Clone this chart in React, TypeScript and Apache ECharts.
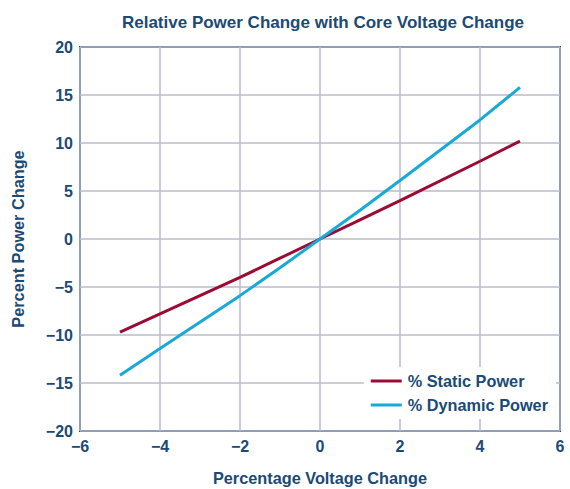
import React, { useEffect, useRef } from "react";
import * as echarts from "echarts";

const xValues = [-5, -4, -2, -1, 0, 1, 2, 4, 5];
const staticPower = [-9.7, -7.8, -4.0, -2.0, 0, 2.0, 4.0, 8.1, 10.2];
const dynamicPower = [-14.2, -11.4, -5.9, -3.0, 0, 3.0, 6.1, 12.4, 15.8];

const NAVY = "#1b4a74";
const FONT = "'Liberation Sans', Arial, Helvetica, sans-serif";

const fmt = (v: number) => String(v).replace("-", "\u2212");

export default function App() {
  const ref = useRef<HTMLDivElement>(null);
  useEffect(() => {
    const chart = echarts.init(ref.current!, null, { renderer: "svg" });
    chart.setOption({
      animation: false,
      backgroundColor: "#fff",
      title: {
        text: "Relative Power Change with Core Voltage Change",
        left: 318,
        textAlign: "center",
        top: 9,
        textStyle: { color: NAVY, fontFamily: FONT, fontWeight: "bold", fontSize: 17 },
      },
      grid: {
        left: 80,
        right: 10,
        top: 47,
        bottom: 58,
        show: true,
        borderColor: NAVY,
        borderWidth: 2,
        containLabel: false,
        outerBoundsMode: "none",
      },
      xAxis: {
        type: "value",
        min: -6,
        max: 6,
        interval: 2,
        name: "Percentage Voltage Change",
        nameLocation: "middle",
        nameGap: 39,
        nameTextStyle: { color: NAVY, fontFamily: FONT, fontWeight: "bold", fontSize: 16.3 },
        axisLine: { show: false },
        axisTick: { show: false },
        axisLabel: {
          color: NAVY,
          fontFamily: FONT,
          fontWeight: "bold",
          fontSize: 16,
          margin: 7,
          formatter: fmt,
        },
        splitLine: { show: true, lineStyle: { color: "#b9bccb", width: 1.5 } },
      },
      yAxis: {
        type: "value",
        min: -20,
        max: 20,
        interval: 5,
        name: "Percent Power Change",
        nameLocation: "middle",
        nameGap: 54,
        nameTextStyle: { color: NAVY, fontFamily: FONT, fontWeight: "bold", fontSize: 16.3 },
        axisLine: { show: false },
        axisTick: { show: false },
        axisLabel: {
          color: NAVY,
          fontFamily: FONT,
          fontWeight: "bold",
          fontSize: 16,
          margin: 7,
          formatter: fmt,
        },
        splitLine: { show: true, lineStyle: { color: "#b9bccb", width: 1.5 } },
      },
      legend: {
        right: 14,
        top: 367,
        orient: "vertical",
        backgroundColor: "#fff",
        padding: [5, 8, 5, 7],
        itemGap: 6,
        itemWidth: 31,
        itemHeight: 3,
        icon: "rect",
        textStyle: {
          color: NAVY,
          fontFamily: FONT,
          fontWeight: "bold",
          fontSize: 16.3,
          lineHeight: 18,
          padding: [0, 0, 0, 1],
        },
        data: ["% Static Power", "% Dynamic Power"],
      },
      series: [
        {
          name: "% Static Power",
          type: "line",
          data: xValues.map((x, i) => [x, staticPower[i]]),
          showSymbol: false,
          symbol: "none",
          lineStyle: { color: "#9b0b34", width: 3 },
          itemStyle: { color: "#9b0b34" },
        },
        {
          name: "% Dynamic Power",
          type: "line",
          data: xValues.map((x, i) => [x, dynamicPower[i]]),
          showSymbol: false,
          symbol: "none",
          lineStyle: { color: "#19a9d6", width: 3 },
          itemStyle: { color: "#19a9d6" },
        },
      ],
    });
    return () => chart.dispose();
  }, []);
  return <div ref={ref} style={{ width: 570, height: 489, position: "absolute", left: 0, top: 0 }} />;
}
